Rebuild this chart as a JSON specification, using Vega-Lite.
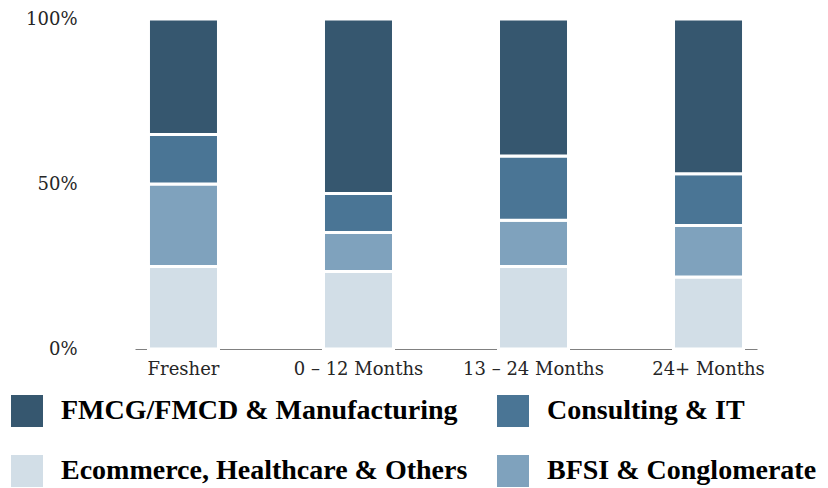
{
  "$schema": "https://vega.github.io/schema/vega-lite/v6.json",
  "width": 622,
  "height": 330,
  "autosize": {"type": "none"},
  "padding": {"left": 135, "top": 19, "right": 71, "bottom": 139},
  "background": "white",
  "data": {
    "values": [
      {"experience": "Fresher", "segment": "Ecommerce, Healthcare & Others", "share": 25},
      {"experience": "Fresher", "segment": "BFSI & Conglomerate", "share": 25},
      {"experience": "Fresher", "segment": "Consulting & IT", "share": 15},
      {"experience": "Fresher", "segment": "FMCG/FMCD & Manufacturing", "share": 35},
      {"experience": "0 – 12 Months", "segment": "Ecommerce, Healthcare & Others", "share": 23.5},
      {"experience": "0 – 12 Months", "segment": "BFSI & Conglomerate", "share": 11.8},
      {"experience": "0 – 12 Months", "segment": "Consulting & IT", "share": 11.8},
      {"experience": "0 – 12 Months", "segment": "FMCG/FMCD & Manufacturing", "share": 52.9},
      {"experience": "13 – 24 Months", "segment": "Ecommerce, Healthcare & Others", "share": 25},
      {"experience": "13 – 24 Months", "segment": "BFSI & Conglomerate", "share": 14},
      {"experience": "13 – 24 Months", "segment": "Consulting & IT", "share": 19.5},
      {"experience": "13 – 24 Months", "segment": "FMCG/FMCD & Manufacturing", "share": 41.5},
      {"experience": "24+ Months", "segment": "Ecommerce, Healthcare & Others", "share": 21.8},
      {"experience": "24+ Months", "segment": "BFSI & Conglomerate", "share": 15.6},
      {"experience": "24+ Months", "segment": "Consulting & IT", "share": 15.7},
      {"experience": "24+ Months", "segment": "FMCG/FMCD & Manufacturing", "share": 46.9}
    ]
  },
  "transform": [
    {"calculate": "indexof(['Ecommerce, Healthcare & Others','BFSI & Conglomerate','Consulting & IT','FMCG/FMCD & Manufacturing'], datum.segment)", "as": "stackOrder"}
  ],
  "mark": {"type": "bar", "stroke": "white", "strokeWidth": 3},
  "encoding": {
    "x": {
      "field": "experience",
      "type": "nominal",
      "sort": ["Fresher", "0 – 12 Months", "13 – 24 Months", "24+ Months"],
      "scale": {"paddingInner": 0.6, "paddingOuter": 0.077},
      "axis": {
        "title": null,
        "labelAngle": 0,
        "ticks": false,
        "domainColor": "#808080",
        "domainWidth": 1,
        "labelFont": "DejaVu Serif",
        "labelFontSize": 18,
        "labelColor": "#262626",
        "labelPadding": 11
      }
    },
    "y": {
      "field": "share",
      "type": "quantitative",
      "stack": "normalize",
      "axis": {
        "title": null,
        "domain": false,
        "ticks": false,
        "grid": false,
        "values": [0, 0.5, 1],
        "format": ".0%",
        "labelFont": "DejaVu Serif",
        "labelFontSize": 18,
        "labelColor": "#262626",
        "labelPadding": 58
      }
    },
    "color": {
      "field": "segment",
      "type": "nominal",
      "scale": {
        "domain": ["FMCG/FMCD & Manufacturing", "Ecommerce, Healthcare & Others", "Consulting & IT", "BFSI & Conglomerate"],
        "range": ["#36576f", "#d2dee7", "#4a7595", "#7fa2bd"]
      },
      "legend": {
        "title": null,
        "orient": "none",
        "legendX": -124,
        "legendY": 376,
        "columns": 2,
        "padding": 0,
        "symbolType": "square",
        "symbolSize": 1024,
        "symbolStrokeWidth": 0,
        "symbolOpacity": 1,
        "labelFont": "Liberation Serif",
        "labelFontWeight": "bold",
        "labelFontSize": 28,
        "labelColor": "black",
        "labelOffset": 18,
        "labelLimit": 600,
        "columnPadding": 29,
        "rowPadding": 28
      }
    },
    "order": {"field": "stackOrder", "type": "quantitative"}
  },
  "config": {"view": {"stroke": null}}
}
